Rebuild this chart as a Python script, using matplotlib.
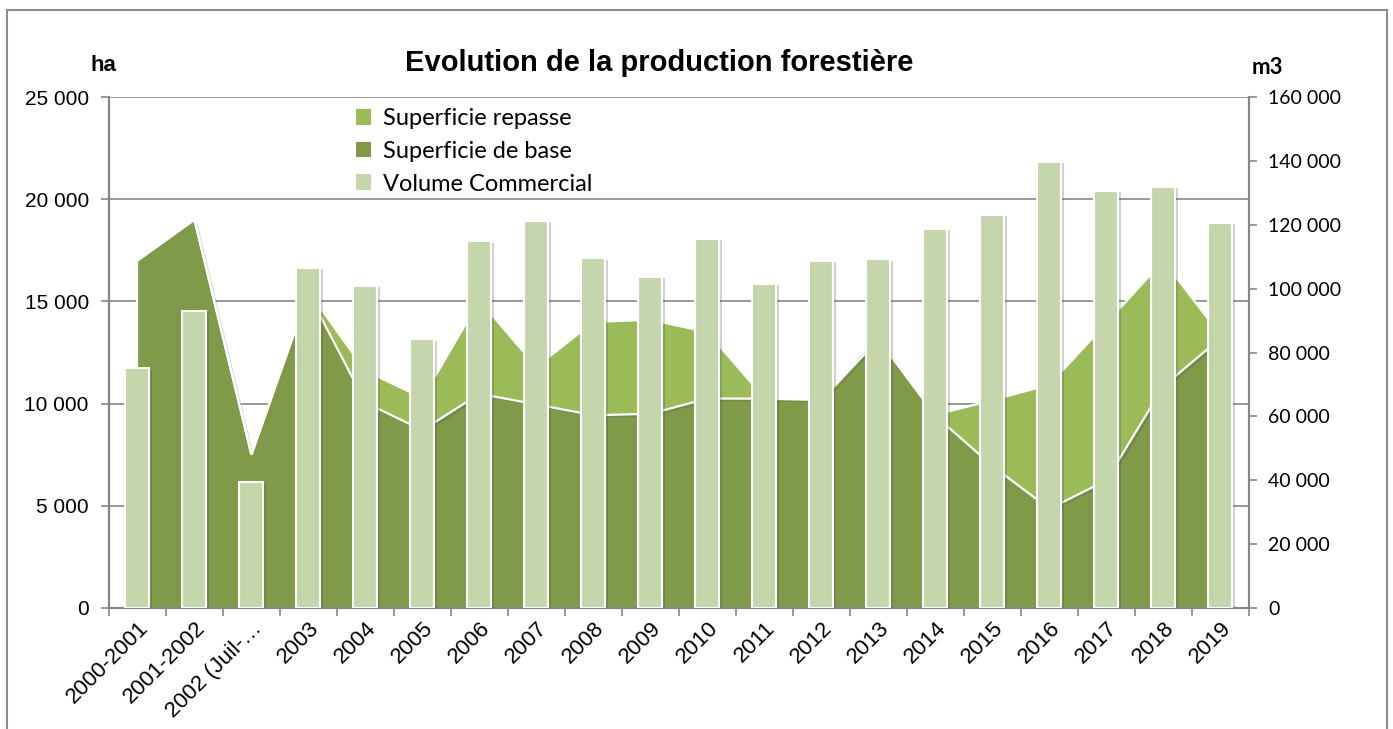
import matplotlib.pyplot as plt
import matplotlib.patheffects as pe
from matplotlib.patches import Rectangle
from matplotlib.ticker import FuncFormatter, FixedLocator
import numpy as np

annees = ['2000-2001', '2001-2002', '2002 (Juil-…', '2003', '2004', '2005', '2006',
          '2007', '2008', '2009', '2010', '2011', '2012', '2013', '2014', '2015',
          '2016', '2017', '2018', '2019']

# ha
sup_base = [17000, 19000, 7500, 15400, 10050, 8700, 10480, 9960, 9430, 9500,
            10250, 10240, 10180, 13150, 9400, 6950, 4850, 6250, 10850, 13200]
sup_repasse = [0, 0, 0, 100, 1550, 1580, 4570, 1840, 4570, 4600,
               3250, 40, 50, 230, 50, 3220, 6080, 7700, 6150, 150]
# m3
volume = [75100, 93100, 39500, 106500, 100900, 84100, 114800, 121200, 109500, 103700,
          115700, 101600, 108800, 109200, 118700, 123100, 139700, 130700, 131800, 120600]

c_base = '#7f9a48'
c_repasse = '#9bbb59'
c_volume = '#c6d6ac'
c_axe = '#868686'

fig = plt.figure(figsize=(13.93, 7.29), dpi=100)
ax = fig.add_axes([0.0782, 0.166, 0.8184, 0.7009])
ax2 = ax.twinx()

x = np.arange(len(annees))
base = np.array(sup_base)
total = base + np.array(sup_repasse)

ombre = [pe.withSimplePatchShadow(offset=(2, -2), shadow_rgbFace='#555555', alpha=0.25)]

a1 = ax.fill_between(x, 0, base, color=c_base, lw=0, zorder=2)
a2 = ax.fill_between(x, base, total, color=c_repasse, lw=0, zorder=2)
a1.set_path_effects(ombre)
a2.set_path_effects(ombre)
ax.plot(x, total, color='white', lw=1.6, zorder=3, solid_joinstyle='miter')
ax.plot(x, base, color='white', lw=1.6, zorder=3, solid_joinstyle='miter')
ax.plot([x[0], x[0]], [0, total[0]], color='white', lw=1.6, zorder=3)

bars = ax2.bar(x, volume, width=0.42, color=c_volume, edgecolor='white', lw=1.5, zorder=3)
for b in bars:
    b.set_path_effects([pe.withSimplePatchShadow(offset=(2, -1), shadow_rgbFace='#444444', alpha=0.25)])

ax.set_xlim(-0.5, len(annees) - 0.5)
ax.set_ylim(0, 25000)
ax2.set_ylim(0, 160000)
ax.set_yticks(np.arange(0, 25001, 5000))
ax2.set_yticks(np.arange(0, 160001, 20000))

fmt = FuncFormatter(lambda v, p: '{:,.0f}'.format(v).replace(',', ' '))
ax.yaxis.set_major_formatter(fmt)
ax2.yaxis.set_major_formatter(fmt)

ax.set_axisbelow(True)
ax.grid(axis='y', color=c_axe, lw=1.2)

ax.set_xticks(x)
ax.set_xticklabels(annees, rotation=45, ha='right', va='top', rotation_mode='anchor',
                   fontsize=16, family='Liberation Sans')
ax.xaxis.set_minor_locator(FixedLocator(np.arange(-0.5, len(annees), 1)))
ax.tick_params(axis='x', which='major', length=0, pad=7)
ax.tick_params(axis='x', which='minor', length=6, width=1.2, color=c_axe)
ax.tick_params(axis='y', length=6, width=1.2, color=c_axe, labelsize=15, pad=8.5)
for t in ax.get_yticklabels():
    t.set_family('Liberation Sans')
ax2.tick_params(axis='y', length=6, width=1.2, color=c_axe, labelsize=14, pad=8)
for t in ax2.get_yticklabels():
    t.set_family('Lato')

for a in (ax, ax2):
    a.spines['top'].set_visible(False)
    for s in ('left', 'right', 'bottom'):
        a.spines[s].set_color(c_axe)
        a.spines[s].set_linewidth(1.5)

leg = ax2.legend([a2, a1, bars], ['Superficie repasse', 'Superficie de base', 'Volume Commercial'],
                 loc='upper left', bbox_to_anchor=(0.198, 1.02), frameon=False,
                 handlelength=0.65, handleheight=0.65, handletextpad=0.5, labelspacing=0.5,
                 prop={'family': 'Lato', 'size': 17})
for h in leg.legend_handles:
    h.set_path_effects([])
    h.set_edgecolor('none')

fig.text(0.473, 0.913, 'Evolution de la production forestière', ha='center', va='center',
         fontsize=21, fontweight='bold', family='Liberation Sans')
fig.text(0.074, 0.91, 'ha', ha='center', va='center', fontsize=16, fontweight='bold',
         family='Liberation Sans')
fig.text(0.9095, 0.907, 'm3', ha='center', va='center', fontsize=16, fontweight='bold',
         family='Lato')

fig.patches.append(Rectangle((0.005, -0.05), 0.9905, 1.036, transform=fig.transFigure,
                             fill=False, edgecolor='#8c8c8c', lw=1.5))

plt.savefig('out.png', dpi=100)
